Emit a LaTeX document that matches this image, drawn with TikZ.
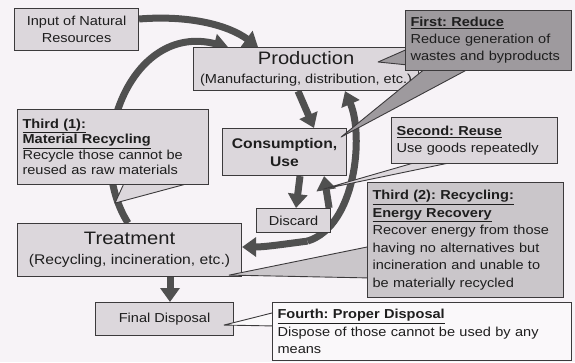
\documentclass[tikz,border=0pt]{standalone}
\usepackage{fontspec}
\setmainfont{Liberation Sans}[FakeStretch=1.12]
\usetikzlibrary{arrows.meta,calc}
\pgfdeclarelayer{bglayer}
\pgfdeclarelayer{arrowlayer}
\pgfdeclarelayer{boxlayer}
\pgfdeclarelayer{wedgelayer}
\pgfsetlayers{bglayer,arrowlayer,boxlayer,wedgelayer,main}
\definecolor{bgc}{HTML}{F7F3F7}
\definecolor{boxc}{HTML}{DCD7DC}
\definecolor{darkc}{HTML}{9E9A9E}
\definecolor{edgec}{HTML}{3C3A3C}
\definecolor{arrc}{HTML}{505050}
\definecolor{whitec}{HTML}{FAF8FA}
\definecolor{txtc}{HTML}{1E1E1E}
\tikzset{
  box/.style={draw=edgec, line width=1.1pt, fill=boxc, rectangle, anchor=north west, inner sep=0pt, text=txtc},
  callout/.style={box, align=left, inner xsep=5pt, inner ysep=2pt},
  body/.style={font=\fontsize{13}{17}\selectfont},
  bigarrow/.style={draw=arrc, line width=7pt, -{Triangle[width=19pt,length=14pt]}},
  wedge/.style={draw=edgec, line width=0.9pt, line join=round},
}
\newcommand{\hd}[1]{\underline{\textbf{#1}}}
\frenchspacing
\begin{document}
\begin{tikzpicture}[x=1pt,y=-1pt]
\useasboundingbox (0,0) rectangle (575,362);
\begin{pgfonlayer}{bglayer}
  \fill[bgc] (0,0) rectangle (575,362);
\end{pgfonlayer}

% main boxes
\begin{pgfonlayer}{boxlayer}
\node[box, body, align=center, minimum width=124pt, minimum height=42pt] (input) at (14,8) {Input of Natural\\Resources};
\node[box, body, align=center, minimum width=225pt, minimum height=43pt] (prod) at (193,47)
  {{\fontsize{18}{18}\selectfont Production}\\[2pt]{\fontsize{13}{13}\selectfont (Manufacturing, distribution, etc.)}};
\node[box, align=center, font=\fontsize{14}{18}\selectfont\bfseries, minimum width=124pt, minimum height=47pt] (cons) at (222,128) {Consumption,\\Use};
\node[box, body, minimum width=74pt, minimum height=24pt] (discard) at (256,208) {Discard};
\node[box, body, align=center, minimum width=224pt, minimum height=53pt] (treat) at (17,223)
  {{\fontsize{18}{18}\selectfont Treatment}\\[3pt]{\fontsize{14}{14}\selectfont (Recycling, incineration, etc.)}};
\node[box, body, minimum width=138pt, minimum height=33pt] (final) at (95,302) {Final Disposal};
\end{pgfonlayer}

% callout boxes
\node[callout, body, fill=darkc, minimum width=166pt, minimum height=60pt, text width=156pt] (reduce) at (405,10)
  {\hd{First: Reduce}\\Reduce generation of\\wastes and byproducts};
\node[callout, body, minimum width=166pt, minimum height=46pt, text width=156pt] (reuse) at (391,117)
  {\hd{Second: Reuse}\\Use goods repeatedly};
\node[callout, font=\fontsize{13}{15.5}\selectfont, minimum width=191pt, minimum height=75pt, text width=181pt] (third1) at (17,109)
  {\hd{Third (1):}\\\hd{Material Recycling}\\Recycle those cannot be\\reused as raw materials};
\node[callout, font=\fontsize{13}{17.5}\selectfont, fill=boxc!92!black, minimum width=196pt, minimum height=115pt, text width=186pt] (third2) at (367,182)
  {\hd{Third (2): Recycling:}\\\hd{Energy Recovery}\\Recover energy from those\\having no alternatives but\\incineration and unable to\\be materially recycled};
\node[callout, font=\fontsize{13}{17.5}\selectfont, fill=whitec, minimum width=299pt, minimum height=58pt, text width=289pt] (fourth) at (272,302)
  {\hd{Fourth: Proper Disposal}\\Dispose of those cannot be used by any\\means};

% junction below Discard
\coordinate (split) at ($(discard.south)+(14,8)$);

% arrows
\begin{pgfonlayer}{arrowlayer}
\draw[bigarrow] ($(input.north east)+(0,11)$) .. controls +(50,-4) and +(-30,-22) .. ($(prod.north west)+(65,0)$);
\draw[bigarrow] ($(treat.north west)+(111,0)$) .. controls (82,150) and (130,22) .. ($(prod.north west)+(35,0)$);
\draw[bigarrow] ($(prod.south west)+(105,0)$) -- ($(cons.north west)+(92,0)$);
\draw[bigarrow] ($(cons.south west)+(78,0)$) -- ($(discard.north west)+(40,0)$);
\draw[bigarrow] ($(discard.north east)+(-2,0)$) -- ($(cons.south east)+(-23,0)$);
\draw[bigarrow] (split) .. controls (356,226) and (364,135) .. ($(prod.south west)+(152,0)$);
\draw[bigarrow] (split) .. controls (285,244) and (265,247) .. ($(treat.north east)+(0,24)$);
\draw[bigarrow] ($(treat.south west)+(153,0)$) -- ($(final.north west)+(75,0)$);
\end{pgfonlayer}

% callout pointers
\begin{pgfonlayer}{wedgelayer}
\coordinate (tipA) at ($(prod.north east)+(-41,15)$);
\coordinate (tipB) at ($(cons.north east)+(-6,9)$);
\coordinate (tipC) at ($(cons.south east)+(-24,13)$);
\coordinate (tipD) at ($(third1.south west)+(98,18)$);
\coordinate (tipE) at ($(treat.south east)+(-13,-2)$);
\coordinate (tipF) at ($(final.east)+(-10,6)$);
\filldraw[wedge, fill=darkc] ($(reduce.north west)+(5,38)$) -- (tipA) -- ($(reduce.north west)+(13,56)$) -- cycle;
\filldraw[wedge, fill=darkc] ($(reduce.south west)+(22,-4)$) -- (tipB) -- ($(reduce.south west)+(67,-4)$) -- cycle;
\filldraw[wedge, fill=boxc] ($(reuse.south west)+(29,-3)$) -- (tipC) -- ($(reuse.south west)+(67,-3)$) -- cycle;
\filldraw[wedge, fill=boxc] ($(third1.south west)+(108,-4)$) -- (tipD) -- ($(third1.south west)+(180,-4)$) -- cycle;
\filldraw[wedge, fill=boxc!92!black] ($(third2.north west)+(5,64)$) -- (tipE) -- ($(third2.north west)+(5,96)$) -- cycle;
\filldraw[wedge, fill=whitec] ($(fourth.north west)+(4,10)$) -- (tipF) -- ($(fourth.north west)+(4,24)$) -- cycle;
\end{pgfonlayer}
\end{tikzpicture}
\end{document}
